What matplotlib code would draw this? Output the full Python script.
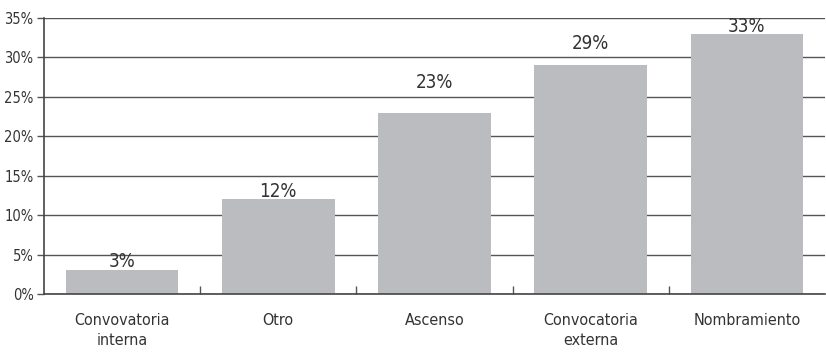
import matplotlib
matplotlib.use("Agg")
from matplotlib import pyplot as plt
import numpy as np

categories = ["Convovatoria\ninterna", "Otro", "Ascenso", "Convocatoria\nexterna", "Nombramiento"]
values = [3, 12, 23, 29, 33]
yticks = [0, 5, 10, 15, 20, 25, 30, 35]

# how far above each bar its label sits (data units)
label_lift = [0.45, 0.3, 3.1, 2.1, 0.2]

plt.rcParams["font.family"] = ["DejaVu Sans"]
plt.rcParams["font.stretch"] = "condensed"

fig = plt.figure(figsize=(8.26, 3.53), dpi=100)
ax = fig.add_axes([44 / 826, 59 / 353, 781 / 826, 276 / 353])

x = np.arange(len(values))
ax.set_axisbelow(True)
ax.yaxis.grid(True, color="#555555", linewidth=1.0)
ax.bar(x, values, width=0.72, color="#bbbcbf", zorder=2)

for xi, v, lift in zip(x, values, label_lift):
    ax.text(xi, v + lift, f"{v}%", ha="center", va="baseline", fontsize=13.5,
            color="#333333", fontstretch="condensed", zorder=3)

ax.set_xlim(-0.5, len(values) - 0.5)
ax.set_ylim(0, 35)
ax.set_yticks(yticks)
ax.set_yticklabels([f"{t}%" for t in yticks], fontsize=10.5, color="#333333")
ax.tick_params(axis="y", length=5, width=1, color="#555555", pad=2.5)

# category names under the bars, small ticks on the boundaries
ax.set_xticks(x)
ax.set_xticklabels(categories, fontsize=11.5, color="#333333", linespacing=1.4)
ax.tick_params(axis="x", length=0, pad=14)
ax.set_xticks(np.arange(0.5, len(values) - 0.5, 1), minor=True)
ax.tick_params(axis="x", which="minor", direction="in", length=6, width=1, color="#555555")

for side in ["top", "right"]:
    ax.spines[side].set_visible(False)
for side in ["left", "bottom"]:
    ax.spines[side].set_color("#444444")
    ax.spines[side].set_linewidth(1.2)

fig.savefig("out.png", dpi=100)
